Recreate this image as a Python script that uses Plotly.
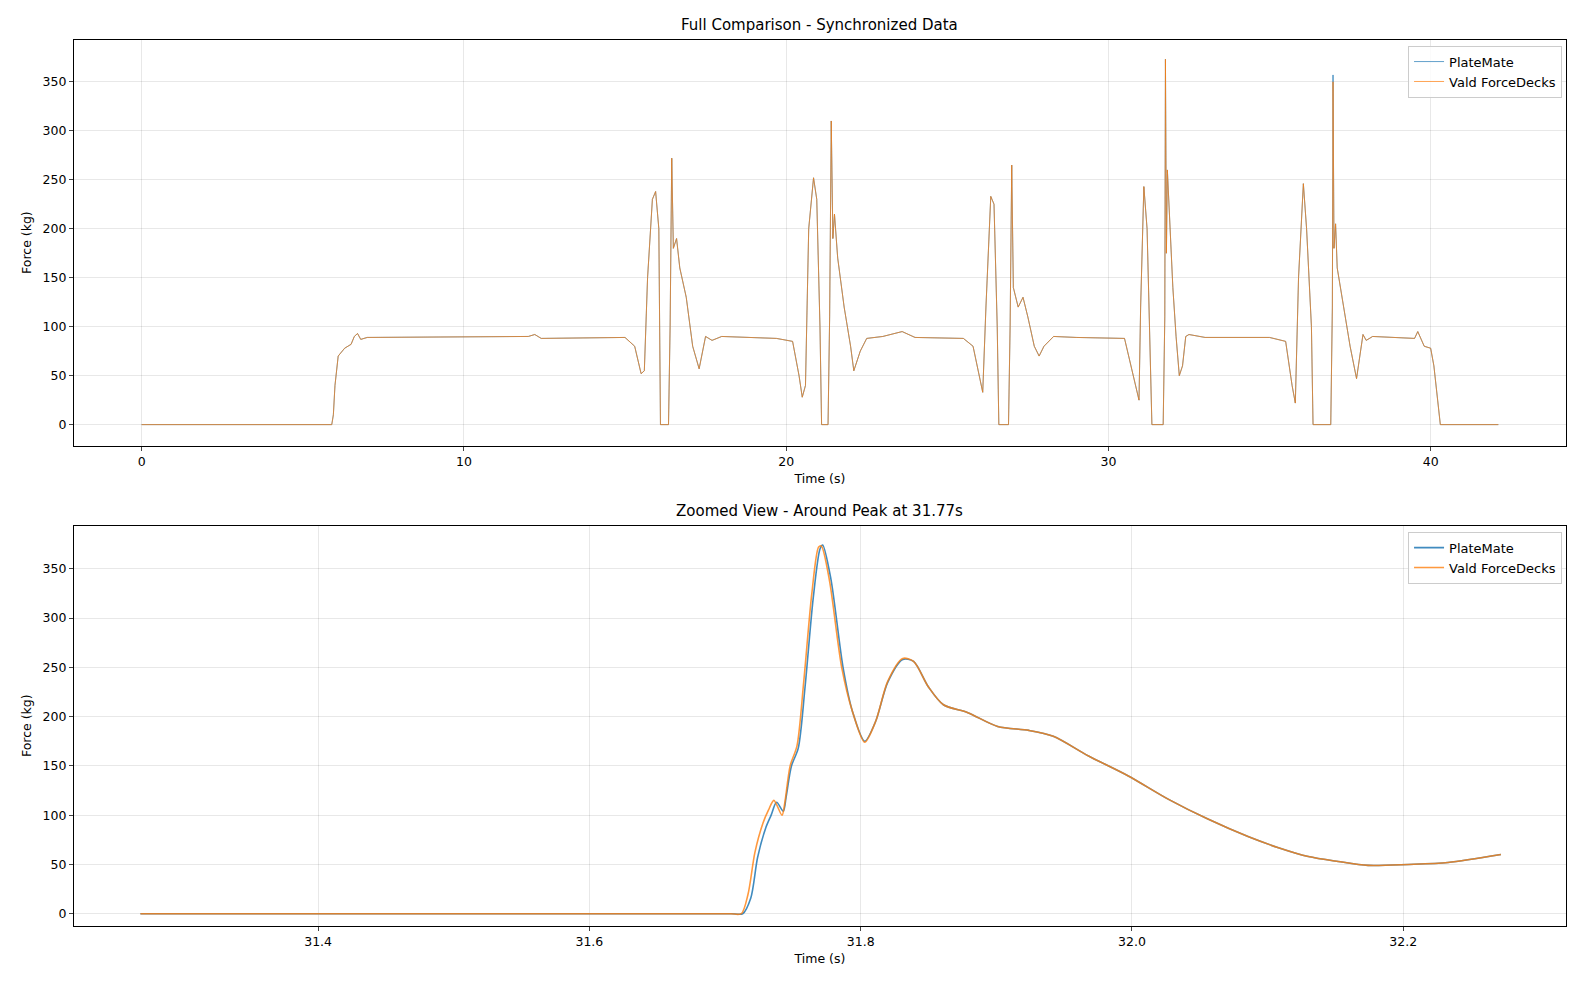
import plotly.graph_objects as go

full_t = [0,5.9,5.95,6.0,6.1,6.3,6.5,6.6,6.7,6.8,7,12,12.2,12.4,15,15.3,15.5,15.6,15.7,15.85,15.95,16.05,16.1,16.35,16.4,16.45,16.5,16.6,16.7,16.9,17.1,17.3,17.5,17.7,18,19.7,20.2,20.4,20.5,20.6,20.7,20.85,20.95,21.05,21.1,21.3,21.35,21.4,21.45,21.5,21.6,21.8,22,22.1,22.3,22.5,23,23.6,24,25.5,25.8,26.0,26.1,26.2,26.35,26.45,26.55,26.6,26.9,26.95,27.0,27.05,27.2,27.35,27.5,27.7,27.85,28.0,28.3,29,30.5,30.7,30.9,30.95,31.0,31.1,31.2,31.3,31.35,31.7,31.75,31.77,31.8,31.83,31.9,32.0,32.1,32.2,32.3,32.4,32.5,33,35,35.5,35.7,35.8,35.9,36.05,36.15,36.3,36.35,36.9,36.95,36.97,37.0,37.05,37.1,37.3,37.5,37.7,37.9,38,38.2,39.5,39.6,39.8,40.0,40.1,40.3,42.1]
full_pm = [0,0,10,40,70,78,82,90,93,87,89,90,92,88,89,80,52,55,150,230,238,200,0,0,100,272,180,190,160,130,80,57,90,86,90,88,85,50,28,40,200,252,230,100,0,0,110,310,190,215,170,120,80,55,75,88,90,95,89,88,80,50,33,120,233,225,100,0,0,100,265,140,120,130,110,80,70,80,90,89,88,60,30,25,120,243,200,80,0,0,110,373,175,260,205,140,90,50,60,90,92,89,89,85,40,22,150,246,200,100,0,0,120,357,180,205,160,120,80,47,92,86,90,88,95,80,78,60,0,0]
full_vd = list(full_pm)
full_vd[full_t.index(36.97)] = 350

zoom_t = [31.269,31.5,31.69,31.705,31.713,31.719,31.724,31.730,31.734,31.738,31.743,31.745,31.749,31.754,31.759,31.765,31.770,31.772,31.778,31.787,31.794,31.803,31.811,31.820,31.831,31.839,31.850,31.861,31.879,31.901,31.924,31.942,31.968,31.997,32.027,32.056,32.086,32.108,32.130,32.152,32.174,32.204,32.233,32.272]
zoom_pm = [0,0,0,0,0,16,57,87,100,113,104,118,150,168,230,320,370,374,340,250,205,175,195,235,258,256,230,212,204,190,186,180,160,140,116,96,78,67,58,53,49,50,52,60]
zoom_vd_t = [31.269,31.5,31.69,31.704,31.712,31.717,31.722,31.728,31.732,31.736,31.742,31.744,31.748,31.753,31.758,31.764,31.769,31.771,31.777,31.786,31.794,31.803,31.811,31.820,31.831,31.839,31.850,31.861,31.879,31.901,31.924,31.942,31.968,31.997,32.027,32.056,32.086,32.108,32.130,32.152,32.174,32.204,32.233,32.272]
zoom_vd = [0,0,0,0,0,20,62,92,105,115,100,112,150,170,235,325,372,373,338,250,205,174,195,236,259,256,230,212,204,190,186,180,160,140,116,96,78,67,58,53,49,50,52,60]

blue = "rgba(31,119,180,0.7)"
orange = "rgba(255,127,14,0.7)"

fig = go.Figure()
fig.add_trace(go.Scatter(x=full_t, y=full_pm, mode="lines", name="PlateMate", line=dict(color=blue, width=1), legend="legend"))
fig.add_trace(go.Scatter(x=full_t, y=full_vd, mode="lines", name="Vald ForceDecks", line=dict(color=orange, width=1), legend="legend"))
fig.add_trace(go.Scatter(x=zoom_t, y=zoom_pm, mode="lines", name="PlateMate", line=dict(color="rgba(31,119,180,0.85)", width=1.6, shape="spline", smoothing=0.8), xaxis="x2", yaxis="y2", legend="legend2"))
fig.add_trace(go.Scatter(x=zoom_vd_t, y=zoom_vd, mode="lines", name="Vald ForceDecks", line=dict(color="rgba(255,127,14,0.8)", width=1.6, shape="spline", smoothing=0.8), xaxis="x2", yaxis="y2", legend="legend2"))

tf = dict(text="", font=dict(size=12.5))
ax = dict(showline=True, mirror=True, linecolor="black", linewidth=1, ticks="outside", ticklen=4, automargin=False,
          gridcolor="rgba(0,0,0,0.09)", zeroline=False, tickfont=dict(size=12.5, color="black"))
fig.update_layout(
    width=1589, height=990, margin=dict(l=0, r=0, t=0, b=0, autoexpand=False),
    plot_bgcolor="white", paper_bgcolor="white",
    font=dict(family="DejaVu Sans", size=12.5, color="black"),
    xaxis=dict(ax, domain=[0.0415, 0.9805], anchor="y", range=[-2.1, 44.2], tickvals=[0,10,20,30,40],
               title=dict(text="Time (s)", standoff=6, font=dict(size=12.5))),
    yaxis=dict(ax, domain=[0.558, 0.968], anchor="x", range=[-21.4, 393], tickvals=[0,50,100,150,200,250,300,350],
               title=dict(text="Force (kg)", standoff=8, font=dict(size=12.5))),
    xaxis2=dict(ax, domain=[0.0415, 0.9805], anchor="y2", range=[31.22, 32.32], tickvals=[31.4,31.6,31.8,32.0,32.2],
                ticktext=["31.4","31.6","31.8","32.0","32.2"], title=dict(text="Time (s)", standoff=6, font=dict(size=12.5))),
    yaxis2=dict(ax, domain=[0.073, 0.477], anchor="x2", range=[-12.2, 393.6], tickvals=[0,50,100,150,200,250,300,350],
                title=dict(text="Force (kg)", standoff=8, font=dict(size=12.5))),
    legend=dict(x=0.978, y=0.962, xanchor="right", yanchor="top", bgcolor="rgba(255,255,255,0.8)",
                bordercolor="#ccc", borderwidth=1, font=dict(size=13), tracegroupgap=0),
    legend2=dict(x=0.978, y=0.471, xanchor="right", yanchor="top", bgcolor="rgba(255,255,255,0.8)",
                 bordercolor="#ccc", borderwidth=1, font=dict(size=13), tracegroupgap=0),
    annotations=[
        dict(text="Full Comparison - Synchronized Data", x=0.511, y=0.972, xref="paper", yref="paper",
             xanchor="center", yanchor="bottom", showarrow=False, font=dict(size=15)),
        dict(text="Zoomed View - Around Peak at 31.77s", x=0.511, y=0.481, xref="paper", yref="paper",
             xanchor="center", yanchor="bottom", showarrow=False, font=dict(size=15)),
    ],
)
fig.write_html("out.html")
